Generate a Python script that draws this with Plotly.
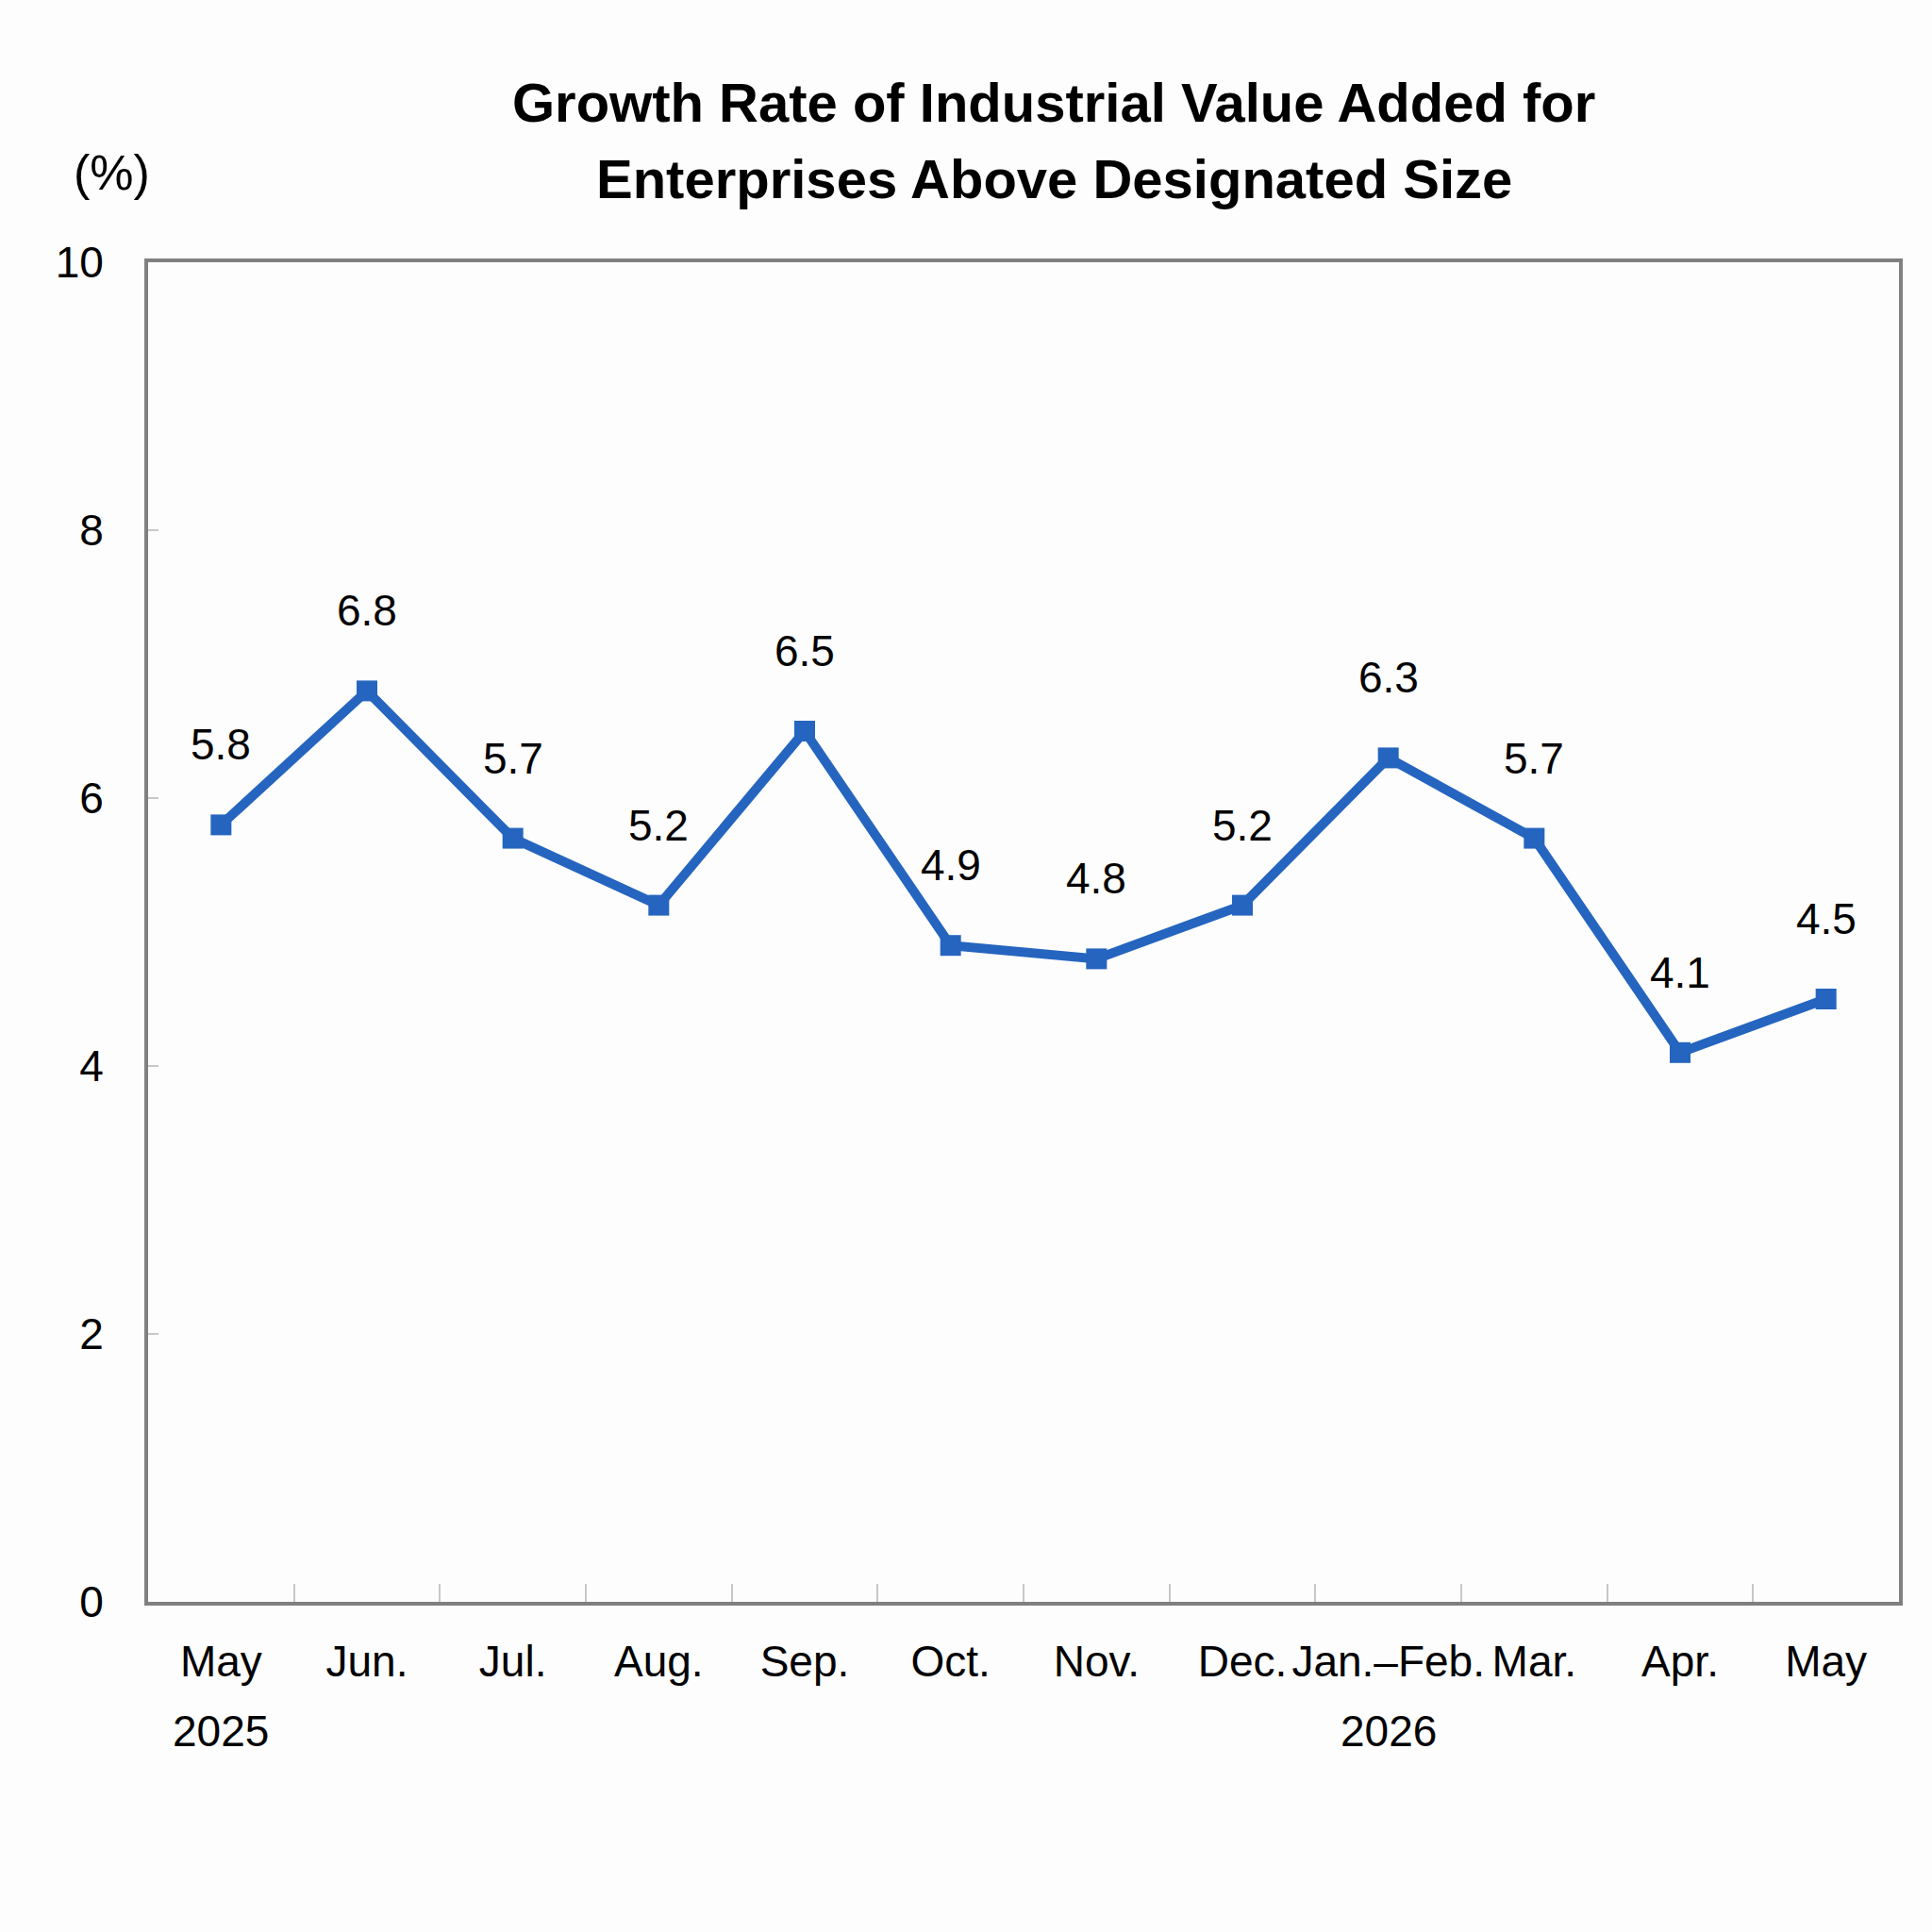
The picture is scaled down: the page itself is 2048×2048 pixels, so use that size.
import plotly.graph_objects as go

categories = ["May 2025", "Jun.", "Jul.", "Aug.", "Sep.", "Oct.", "Nov.", "Dec.",
              "Jan.–Feb. 2026", "Mar.", "Apr.", "May"]
tick_text = ["May", "Jun.", "Jul.", "Aug.", "Sep.", "Oct.", "Nov.", "Dec.",
             "Jan.–Feb.", "Mar.", "Apr.", "May"]
year_text = ["2025", "", "", "", "", "", "", "", "2026", "", "", ""]
values = [5.8, 6.8, 5.7, 5.2, 6.5, 4.9, 4.8, 5.2, 6.3, 5.7, 4.1, 4.5]
labels = ["5.8", "6.8", "5.7", "5.2", "6.5", "4.9", "4.8", "5.2", "6.3", "5.7", "4.1", "4.5"]
y_ticks = [0, 2, 4, 6, 8, 10]
title_lines = ["Growth Rate of Industrial Value Added for", "Enterprises Above Designated Size"]

FONT = "Liberation Sans, Arial, sans-serif"
BLUE = "#2565BF"

fig = go.Figure()
fig.add_trace(go.Scatter(
    x=categories, y=values, mode="lines+markers",
    line=dict(color=BLUE, width=10),
    marker=dict(symbol="square", size=22, color=BLUE),
    showlegend=False, hoverinfo="skip",
))

for c, v, t in zip(categories, values, labels):
    fig.add_annotation(x=c, y=v, text=t, showarrow=False, yshift=85,
                       font=dict(family=FONT, size=46, color="black"))

for c, yt in zip(categories, year_text):
    if yt:
        fig.add_annotation(x=c, y=0, text=yt, showarrow=False, yshift=-137,
                           yanchor="middle", font=dict(family=FONT, size=46, color="black"))

for line, ys in zip(title_lines, [170, 89]):
    fig.add_annotation(xref="paper", yref="paper", x=(1117 - 157) / 1856, y=1.0,
                       yshift=ys, yanchor="middle", xanchor="center", showarrow=False,
                       text="<b>" + line + "</b>",
                       font=dict(family=FONT, size=58, color="black"))
fig.add_annotation(xref="paper", yref="paper", x=(118 - 157) / 1856, y=1.0,
                   yshift=95, yanchor="middle", xanchor="center", showarrow=False,
                   text="(%)", font=dict(family=FONT, size=52, color="black"))

fig.update_layout(
    width=2048, height=2048,
    margin=dict(l=157, r=35, t=278, b=350),
    paper_bgcolor="#FDFDFD", plot_bgcolor="#FDFDFD",
    font=dict(family=FONT, size=46, color="black"),
)
fig.update_xaxes(
    type="category", range=[-0.5, 11.5], tickson="boundaries", ticks="inside",
    tickmode="array", tickvals=categories, ticktext=tick_text,
    ticklen=19, tickwidth=2, tickangle=0,
    tickcolor="#C8C8C8", showline=True, linecolor="#808080", linewidth=4, mirror=True,
    showgrid=False, ticklabelstandoff=20, tickfont=dict(family=FONT, size=46),
)
fig.update_yaxes(
    range=[0, 10], tickvals=y_ticks, ticks="inside", ticklen=11, tickwidth=2,
    tickcolor="#C8C8C8", showline=True, linecolor="#808080", linewidth=4, mirror=True,
    showgrid=False, zeroline=False, ticklabelstandoff=34, tickfont=dict(family=FONT, size=46),
)

fig.write_html("out.html")
